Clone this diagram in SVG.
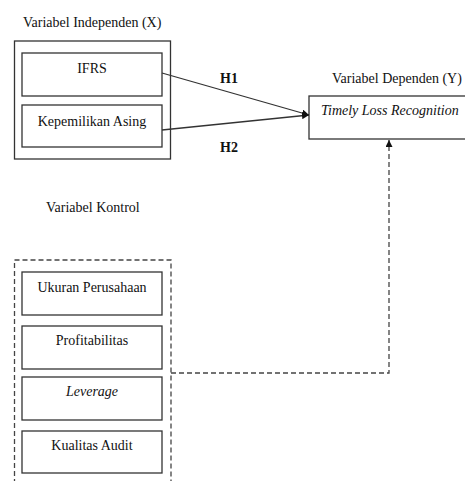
<svg xmlns="http://www.w3.org/2000/svg" width="465" height="481" viewBox="0 0 465 481">
<style>
text{font-family:'Liberation Serif',serif;font-size:14px;fill:#111}
.box{fill:#fff;stroke:#333;stroke-width:1.3}
.dash{fill:none;stroke:#444;stroke-width:1.3;stroke-dasharray:5,3}
.line{fill:none;stroke:#333;stroke-width:1.3}
.c{text-anchor:middle}
.i{font-style:italic}
.b{font-weight:bold}
</style>
<defs>
<marker id="arr" viewBox="0 0 10 10" refX="10" refY="5" markerWidth="7" markerHeight="7" markerUnits="userSpaceOnUse" orient="auto">
<path d="M0,0 L10,5 L0,10 z" fill="#111"/>
</marker>
</defs>
<rect width="465" height="481" fill="#fff"/>
<g id="independen">
<text x="23" y="27">Variabel Independen (X)</text>
<rect class="box" x="14.5" y="41" width="156" height="118"/>
</g>
<g id="ifrs">
<rect class="box" x="22" y="53" width="140" height="43"/>
<text class="c" x="92" y="73">IFRS</text>
</g>
<g id="kepemilikan">
<rect class="box" x="22" y="105" width="140" height="42"/>
<text class="c" x="92" y="126">Kepemilikan Asing</text>
</g>
<g id="dependen">
<text x="332" y="83">Variabel Dependen (Y)</text>
<rect class="box" x="309" y="96" width="160" height="43"/>
<text class="i" x="321" y="115">Timely Loss Recognition</text>
</g>
<g id="kontrol">
<text x="46" y="212">Variabel Kontrol</text>
<path class="dash" d="M14.5,484 V260 H171 V484"/>
</g>
<g id="ukuran">
<rect class="box" x="22" y="272" width="140" height="43"/>
<text class="c" x="92" y="292">Ukuran Perusahaan</text>
</g>
<g id="profitabilitas">
<rect class="box" x="22" y="326" width="140" height="43"/>
<text class="c" x="92" y="345">Profitabilitas</text>
</g>
<g id="leverage">
<rect class="box" x="22" y="377" width="140" height="43"/>
<text class="c i" x="92" y="396">Leverage</text>
</g>
<g id="kualitas">
<rect class="box" x="22" y="431" width="140" height="42"/>
<text class="c" x="92" y="450">Kualitas Audit</text>
</g>
<g id="connectors">
<line class="line" x1="162" y1="73" x2="309" y2="115" marker-end="url(#arr)"/>
<line class="line" x1="162" y1="130" x2="309" y2="115" marker-end="url(#arr)"/>
<text class="b" x="220" y="83">H1</text>
<text class="b" x="220" y="152">H2</text>
<path class="dash" d="M171,373 H389 V146"/>
<line class="line" x1="389" y1="147" x2="389" y2="140" marker-end="url(#arr)"/>
</g>
</svg>
